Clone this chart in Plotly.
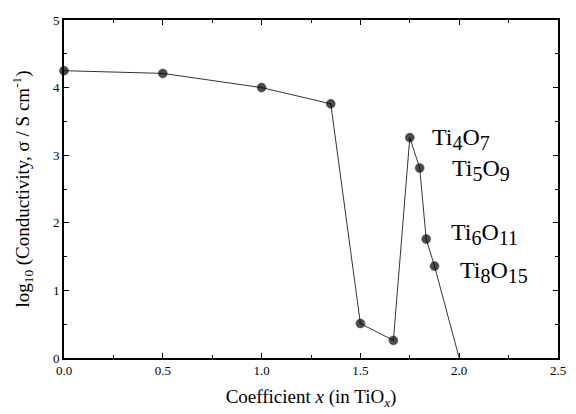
import plotly.graph_objects as go

# Oxygen coefficient x in TiO_x and log10 conductivity (S/cm)
coef_x = [0.0, 0.5, 1.0, 1.35, 1.5, 1.667, 1.75, 1.80, 1.833, 1.875, 2.0]
log_sigma = [4.25, 4.21, 4.0, 3.76, 0.51, 0.26, 3.26, 2.81, 1.76, 1.36, 0.0]
# the TiO2 end point falls on the axis and carries no marker
marker_sizes = [9, 9, 9, 9, 9, 9, 9, 9, 9, 9, 0]

phase_ti = ["4", "5", "6", "8"]
phase_o = ["7", "9", "11", "15"]
label_x = [1.85, 1.955, 1.95, 1.995]
label_y = [3.24, 2.78, 1.84, 1.27]

serif = "Liberation Serif"


def formula(n_ti, n_o):
    sub = "<sub><span style='font-size:20px'>{}</span></sub>"
    return "Ti" + sub.format(n_ti) + "O" + sub.format(n_o)


fig = go.Figure()
fig.add_trace(go.Scatter(
    x=coef_x, y=log_sigma, mode="lines+markers",
    line=dict(color="#333", width=1),
    marker=dict(color="black", size=marker_sizes,
                line=dict(width=0.5, color="black")),
    cliponaxis=False, showlegend=False,
))

for n_ti, n_o, lx, ly in zip(phase_ti, phase_o, label_x, label_y):
    fig.add_annotation(x=lx, y=ly, text=formula(n_ti, n_o), showarrow=False,
                       xanchor="left", yanchor="middle",
                       font=dict(family=serif, size=24, color="black"))

axis_common = dict(
    showline=True, linecolor="black", linewidth=1.6, mirror="ticks",
    ticks="inside", ticklen=5, tickwidth=1.2, tickcolor="black",
    showgrid=False, zeroline=False,
    tickfont=dict(family=serif, size=13, color="black"),
)

fig.update_xaxes(
    range=[0, 2.5], dtick=0.5, tickformat=".1f",
    minor=dict(ticks="inside", ticklen=3, tickcolor="black", dtick=0.25),
    title=dict(text="Coefficient <i>x</i> (in TiO<sub><i>x</i></sub>)",
               font=dict(family=serif, size=19, color="black"), standoff=12),
    **axis_common,
)
fig.update_yaxes(
    range=[0, 5], dtick=1,
    minor=dict(ticks="inside", ticklen=3, tickcolor="black", dtick=0.5),
    title=dict(text="log<sub>10</sub> (Conductivity, σ / S cm<sup>-1</sup>)",
               font=dict(family=serif, size=19, color="black"), standoff=18),
    **axis_common,
)

fig.update_layout(
    width=576, height=414,
    margin=dict(l=64, r=10, t=20, b=54),
    paper_bgcolor="white", plot_bgcolor="white",
)

fig.write_html("out.html")
